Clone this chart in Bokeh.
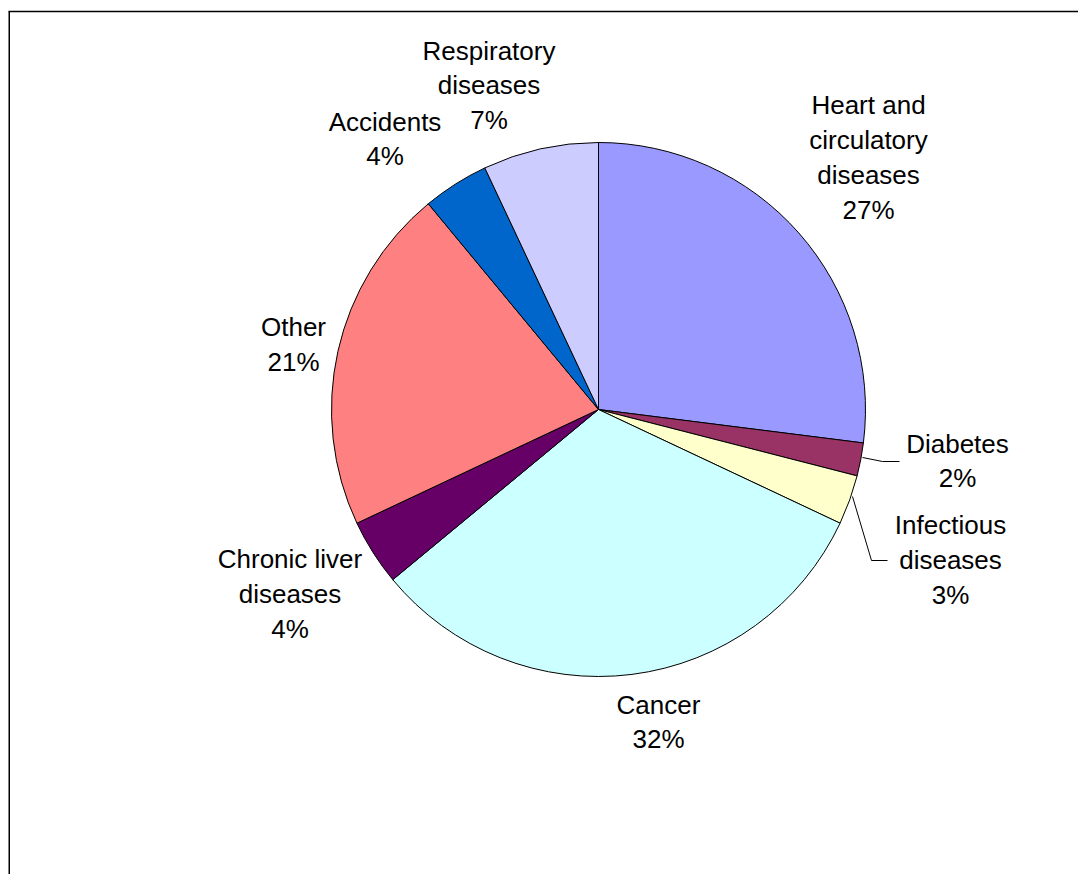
import numpy as np
from bokeh.plotting import figure
from bokeh.models import Range1d, ColumnDataSource
from bokeh.core.properties import value
from bokeh.embed import file_html
from bokeh.resources import INLINE

# ---- data ----
categories = ["Heart and\ncirculatory\ndiseases", "Diabetes", "Infectious\ndiseases",
              "Cancer", "Chronic liver\ndiseases", "Other", "Accidents",
              "Respiratory\ndiseases"]
shares = [27, 2, 3, 32, 4, 21, 4, 7]
colors = ["#9999FF", "#993366", "#FFFFCC", "#CCFFFF", "#660066", "#FF8080",
          "#0066CC", "#CCCCFF"]

# ---- layout (pixel-like data units) ----
W, H = 1078, 874
cx, cy, R = 598, 465, 267
label_x = [868, 957, 950, 658, 289.5, 293, 384.5, 488.5]
label_y = [717, 413.5, 314.5, 152.5, 280.5, 530, 735.5, 789]

vals = np.array(shares, dtype=float)
frac = vals / vals.sum()
cum = np.cumsum(frac)
start = np.pi / 2 - 2 * np.pi * (cum - frac)
end = np.pi / 2 - 2 * np.pi * cum

p = figure(width=W, height=H, output_backend="svg", toolbar_location=None,
           x_range=Range1d(0, W), y_range=Range1d(0, H), min_border=0)
p.axis.visible = False
p.grid.visible = False
p.outline_line_color = None
p.background_fill_color = "white"
p.border_fill_color = "white"

src = ColumnDataSource(dict(start=start, end=end, color=colors))
p.wedge(x=cx, y=cy, radius=R, start_angle="start", end_angle="end",
        direction="clock", fill_color="color", line_color="black",
        line_width=1, source=src)

labels = [f"{c}\n{s}%" for c, s in zip(categories, shares)]
p.text(x=label_x, y=label_y, text=labels, text_align="center",
       text_baseline="middle", text_font=value("Liberation Sans"),
       text_font_size="26px", text_line_height=1.16, text_color="black")

# leader lines for small slices
p.line([862, 882, 899], [417, 413, 413], line_color="black", line_width=1)
p.line([852, 871, 887], [378, 314, 314], line_color="black", line_width=1)

# chart-area frame (extends beyond the visible window)
p.line([8.75, 8.75], [-20, 863], line_color="black", line_width=1.5)
p.line([8, W + 20], [863, 863], line_color="black", line_width=1.5)

open("out.html", "w").write(file_html(p, INLINE))
